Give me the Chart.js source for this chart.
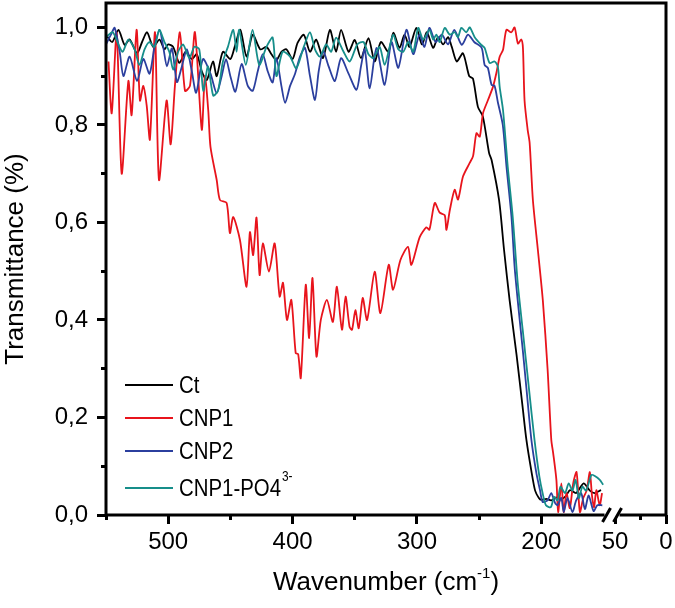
<!DOCTYPE html>
<html>
<head>
<meta charset="utf-8">
<script src="https://cdn.jsdelivr.net/npm/chart.js@4/dist/chart.umd.min.js"></script>
<style>
  html, body { margin: 0; padding: 0; background: #fff; }
  #wrap { width: 675px; height: 608px; }
</style>
</head>
<body>
<div id="wrap"><canvas id="chart"></canvas></div>
<script>
// series names, as in the legend
const seriesNames = ['Ct', 'CNP1', 'CNP2', 'CNP1-PO4']
const seriesSup = ['', '', '', '3-']

// Ct
const ctX = [550, 545, 540, 535, 531, 525, 521, 517, 512, 507, 503, 500, 496, 491, 486, 481, 477, 473, 469, 464, 461, 456, 450, 446, 442, 437, 432, 426, 421, 417, 413, 409, 405, 400, 396, 391, 386, 381, 375.5, 370, 365, 361, 355, 350, 345, 339, 334, 329, 323, 319, 314, 310, 306, 300.5, 296, 292, 287, 283, 279, 275, 272, 268, 263, 258, 255, 251, 247, 242, 240, 234, 230, 225.5, 220, 215, 212, 208, 205, 202, 200, 196, 192, 188, 184, 180, 177, 172, 166, 161, 157, 152]
const ctY = [0.985, 0.97, 0.995, 0.964, 0.975, 0.947, 0.97, 0.99, 0.96, 0.975, 0.955, 0.965, 0.96, 0.927, 0.95, 0.935, 0.945, 0.91, 0.892, 0.93, 0.9, 0.95, 0.935, 0.965, 0.995, 0.94, 0.985, 0.955, 0.96, 0.945, 0.933, 0.95, 0.955, 0.935, 0.968, 0.985, 0.95, 0.975, 0.937, 0.995, 0.95, 0.995, 0.95, 0.974, 0.937, 0.978, 0.93, 0.97, 0.95, 0.989, 0.958, 0.985, 0.96, 0.999, 0.965, 0.99, 0.958, 0.98, 0.965, 0.98, 0.96, 0.93, 0.947, 0.9, 0.895, 0.837, 0.817, 0.742, 0.728, 0.646, 0.544, 0.44, 0.33, 0.22, 0.154, 0.09, 0.05, 0.035, 0.031, 0.033, 0.03, 0.036, 0.032, 0.04, 0.051, 0.045, 0.065, 0.05, 0.045, 0.051]

// CNP1
const cnp1X = [548, 545.4, 541.4, 537.4, 532, 529.4, 525.4, 522.7, 520, 517.3, 514.7, 510.6, 507.4, 501.3, 498, 494.6, 490.6, 486.5, 482.5, 478.5, 473, 470.5, 467.8, 466, 461, 458.4, 453, 450.4, 447.7, 442.3, 437, 434.3, 431.7, 429, 426.5, 423.9, 419, 414.4, 410.4, 407.7, 404.5, 401, 397.5, 395.5, 393.4, 389.4, 386.7, 384, 380.8, 377.3, 372.4, 367.6, 364.4, 360.3, 357.4, 354.2, 352.2, 349.5, 346.8, 343.6, 340.1, 334, 329.4, 322.7, 319.2, 313.3, 307.2, 304.5, 297.8, 292.4, 290, 285.7, 281.7, 277.7, 276.3, 273.6, 269.7, 267, 263, 257.6, 254.9, 252.2, 249.5, 246.9, 242.9, 238.9, 236.2, 233.5, 230.8, 228.1, 224.1, 221.5, 218.8, 216.1, 214.8, 213.5, 211, 209.4, 206.8, 202.8, 198.8, 195, 192, 190.5, 187.9, 186.5, 183.9, 182, 179.8, 177.1, 174.4, 171.7, 169, 166.3, 163.6, 161, 159.3, 157.6, 155.8, 153.1, 151.2]
const cnp1Y = [0.93, 0.824, 0.989, 0.7, 0.89, 0.82, 0.995, 0.85, 0.88, 0.84, 0.77, 0.99, 0.687, 0.85, 0.76, 0.88, 0.99, 0.87, 0.88, 0.99, 0.79, 0.9, 0.83, 0.755, 0.687, 0.646, 0.64, 0.578, 0.611, 0.564, 0.468, 0.58, 0.533, 0.61, 0.492, 0.557, 0.499, 0.557, 0.448, 0.476, 0.4, 0.441, 0.332, 0.33, 0.281, 0.472, 0.363, 0.486, 0.325, 0.4, 0.441, 0.396, 0.468, 0.38, 0.448, 0.386, 0.38, 0.42, 0.383, 0.445, 0.4, 0.499, 0.414, 0.513, 0.462, 0.523, 0.55, 0.513, 0.57, 0.59, 0.585, 0.64, 0.62, 0.615, 0.585, 0.625, 0.667, 0.647, 0.694, 0.722, 0.736, 0.783, 0.776, 0.824, 0.851, 0.878, 0.906, 0.94, 0.954, 0.995, 0.99, 1.0, 0.967, 0.975, 0.958, 0.85, 0.79, 0.763, 0.646, 0.544, 0.44, 0.3, 0.154, 0.127, 0.072, 0.006, 0.065, 0.006, 0.045, 0.014, 0.065, 0.088, 0.006, 0.035, 0.05, 0.088, 0.04, 0.016, 0.051, 0.02, 0.045]

// CNP2
const cnp2X = [550, 546, 543, 539, 536, 531, 525, 520, 515, 511, 507, 504, 501, 497, 493, 489, 485, 481, 477.5, 472, 466, 461, 457, 453.5, 450, 446, 441, 436, 432, 428, 424, 420, 416, 413, 409, 406, 402, 398, 394, 390, 386, 382, 379, 375.4, 371, 366, 361, 355, 348.6, 345, 342, 338, 332.6, 326, 320.5, 315, 308.5, 303, 298, 294, 290, 285, 280, 275, 270, 264, 259, 254, 248, 245.6, 243, 240, 237.6, 235, 231, 228, 224, 221.5, 219, 215, 212, 208, 204, 201, 199, 195, 192, 189, 187, 184, 182, 179, 175, 172, 168, 165, 162, 158, 155, 151]
const cnp2Y = [0.965, 0.985, 0.999, 0.95, 0.9, 0.94, 0.89, 0.935, 0.905, 0.96, 0.995, 0.96, 0.92, 0.957, 0.888, 0.92, 0.955, 0.91, 0.866, 0.935, 0.905, 0.865, 0.9, 0.935, 0.9, 0.868, 0.925, 0.88, 0.87, 0.91, 0.945, 0.91, 0.887, 0.937, 0.88, 0.845, 0.88, 0.905, 0.94, 0.958, 0.9, 0.851, 0.91, 0.951, 0.92, 0.89, 0.937, 0.905, 0.872, 0.92, 0.955, 0.875, 0.958, 0.882, 0.97, 0.917, 0.995, 0.945, 0.985, 0.96, 0.999, 0.97, 0.985, 0.965, 0.995, 0.964, 0.985, 0.97, 0.958, 0.923, 0.917, 0.882, 0.88, 0.847, 0.8, 0.714, 0.611, 0.509, 0.44, 0.34, 0.26, 0.154, 0.086, 0.05, 0.027, 0.03, 0.045, 0.025, 0.02, 0.035, 0.006, 0.035, 0.006, 0.03, 0.045, 0.012, 0.04, 0.008, 0.02, 0.02]

// CNP1-PO4 3-
const po4X = [550, 544.6, 540, 536.6, 532, 527, 523.2, 519, 515.2, 511, 507.2, 503, 499.1, 496, 492, 488, 483, 479, 475, 471.8, 468, 463.8, 460, 456, 452, 447.7, 445, 442.9, 437.6, 432.2, 426.8, 421, 416, 413, 408, 402, 397, 391, 386, 382, 378, 373, 369, 365, 359, 354, 348, 343, 339, 335, 330, 326, 322, 319, 315, 311, 307, 303, 299, 295, 290, 287, 284.4, 281.7, 277.7, 273.6, 269.7, 267, 264.3, 260.3, 257.6, 253.6, 248.2, 245.6, 241.6, 237.6, 235, 233.5, 230.8, 227, 223, 219, 215, 210, 205.5, 201.6, 199, 196.3, 192.4, 189.7, 187, 184.6, 181, 178, 175, 172.5, 169.8, 167, 164, 159.8, 157, 153, 150.3]
const po4Y = [0.98, 0.99, 0.965, 0.95, 0.975, 0.955, 0.923, 0.955, 0.97, 0.96, 0.995, 0.97, 0.95, 0.913, 0.95, 0.965, 0.937, 0.96, 0.955, 0.87, 0.92, 0.86, 0.87, 0.93, 0.96, 0.995, 0.95, 0.995, 0.923, 0.995, 0.923, 0.96, 0.979, 0.9, 0.95, 0.94, 0.916, 0.96, 0.99, 0.955, 0.94, 0.965, 0.95, 0.979, 0.95, 0.93, 0.965, 0.97, 0.945, 0.937, 0.96, 0.923, 0.96, 0.985, 0.955, 0.95, 0.97, 0.95, 0.999, 0.975, 0.995, 0.975, 0.985, 0.97, 0.999, 0.985, 0.99, 0.98, 0.999, 0.99, 1.0, 0.98, 0.964, 0.958, 0.927, 0.93, 0.92, 0.878, 0.83, 0.714, 0.611, 0.476, 0.38, 0.26, 0.154, 0.079, 0.045, 0.02, 0.016, 0.037, 0.03, 0.058, 0.045, 0.065, 0.05, 0.072, 0.035, 0.058, 0.05, 0.082, 0.08, 0.072, 0.062]

// axis ticks
const xMainTicks = [550, 500, 450, 400, 350, 300, 250, 200]
const xMainLabels = [500, 400, 300, 200]
const xTailTicks = [50, 25, 0]
const xTailLabels = [50, 0]
const yTicks = [0, 0.1, 0.2, 0.3, 0.4, 0.5, 0.6, 0.7, 0.8, 0.9, 1.0]
const yLabels = [0, 0.2, 0.4, 0.6, 0.8, 1.0]

const colors = ['#000000', '#e8141c', '#2b3f9e', '#168e8a']
const xs = [ctX, cnp1X, cnp2X, po4X]
const ys = [ctY, cnp1Y, cnp2Y, po4Y]

const isIn = (list, v) => list.some((l) => Math.abs(l - v) < 1e-6)
const FONT = 'Liberation Sans, Arial, Helvetica, sans-serif'

const framePlugin = {
  id: 'frame',
  afterDraw(chart) {
    const { ctx, chartArea: a } = chart
    const x1 = chart.scales.x1
    ctx.save()
    // box around the plot
    ctx.strokeStyle = '#000'
    ctx.lineWidth = 3
    ctx.strokeRect(a.left, a.top, a.right - a.left, a.bottom - a.top)

    // axis break
    const bx = x1.getPixelForValue(150)
    ctx.fillStyle = '#fff'
    ctx.fillRect(bx + 1, a.bottom - 3, 15, 6)
    ctx.lineWidth = 3
    ctx.beginPath()
    ctx.moveTo(bx - 1, a.bottom + 7)
    ctx.lineTo(bx + 7, a.bottom - 7)
    ctx.moveTo(bx + 10, a.bottom + 7)
    ctx.lineTo(bx + 18, a.bottom - 7)
    ctx.stroke()

    // x title with superscript
    ctx.fillStyle = '#000'
    ctx.textBaseline = 'alphabetic'
    ctx.textAlign = 'left'
    const main = 'Wavenumber (cm'
    ctx.font = `26px ${FONT}`
    const w1 = ctx.measureText(main).width
    const w3 = ctx.measureText(')').width
    ctx.font = `15px ${FONT}`
    const w2 = ctx.measureText('-1').width
    let tx = (a.left + a.right) / 2 - (w1 + w2 + w3) / 2
    const ty = 590
    ctx.font = `26px ${FONT}`
    ctx.fillText(main, tx, ty)
    tx += w1
    ctx.font = `15px ${FONT}`
    ctx.fillText('-1', tx, ty - 12)
    tx += w2
    ctx.font = `26px ${FONT}`
    ctx.fillText(')', tx, ty)

    // legend inside the plot
    const rows = [385, 418, 451, 488]
    chart.data.datasets.forEach((ds, i) => {
      const y = rows[i]
      ctx.strokeStyle = ds.borderColor
      ctx.lineWidth = 2
      ctx.beginPath()
      ctx.moveTo(125, y)
      ctx.lineTo(173, y)
      ctx.stroke()
      ctx.save()
      ctx.translate(179, y)
      ctx.scale(0.85, 1)
      ctx.fillStyle = '#000'
      ctx.textBaseline = 'middle'
      ctx.font = `24px ${FONT}`
      ctx.fillText(seriesNames[i], 0, 1)
      if (seriesSup[i]) {
        const w = ctx.measureText(seriesNames[i]).width
        ctx.font = `14px ${FONT}`
        ctx.fillText(seriesSup[i], w + 1, -11)
      }
      ctx.restore()
    })
    ctx.restore()
  },
}

const tickFont = { family: FONT, size: 24 }

new Chart(document.getElementById('chart'), {
  type: 'line',
  data: {
    datasets: seriesNames.map((name, i) => ({
      label: name,
      data: xs[i].map((x, j) => ({ x, y: ys[i][j] })),
      borderColor: colors[i],
      borderWidth: 1.8,
      pointRadius: 0,
      tension: 0.25,
      fill: false,
      xAxisID: 'x1',
      yAxisID: 'y',
      order: 3 - i,
    })),
  },
  options: {
    responsive: true,
    maintainAspectRatio: false,
    animation: false,
    layout: { padding: { top: 3, right: 9, left: 0, bottom: 0 } },
    plugins: { legend: { display: false }, tooltip: { enabled: false } },
    scales: {
      x1: {
        type: 'linear',
        position: 'bottom',
        stack: 'x',
        stackWeight: 505,
        min: 144,
        max: 550,
        reverse: true,
        afterBuildTicks: (s) => { s.ticks = xMainTicks.map((v) => ({ value: v })) },
        afterFit: (s) => { s.height = 93; s.paddingLeft = 0; s.paddingRight = 0 },
        border: { display: false },
        grid: {
          drawOnChartArea: false,
          drawTicks: true,
          tickLength: 9,
          tickWidth: 3,
          tickColor: '#000',
          tickBorderDash: (c) => (isIn(xMainLabels, c.tick.value) ? [] : [5, 20]),
        },
        ticks: {
          color: '#000',
          font: tickFont,
          padding: 4,
          autoSkip: false,
          maxRotation: 0,
          callback: (v) => (isIn(xMainLabels, v) ? String(v) : ''),
        },
      },
      x2: {
        type: 'linear',
        position: 'bottom',
        stack: 'x',
        stackWeight: 55,
        min: 0,
        max: 54,
        reverse: true,
        afterBuildTicks: (s) => { s.ticks = xTailTicks.map((v) => ({ value: v })) },
        afterFit: (s) => { s.height = 93; s.paddingLeft = 0; s.paddingRight = 0 },
        border: { display: false },
        grid: {
          drawOnChartArea: false,
          drawTicks: true,
          tickLength: 9,
          tickWidth: 3,
          tickColor: '#000',
          tickBorderDash: (c) => (isIn(xTailLabels, c.tick.value) ? [] : [5, 20]),
        },
        ticks: {
          color: '#000',
          font: tickFont,
          padding: 4,
          autoSkip: false,
          maxRotation: 0,
          callback: (v) => (isIn(xTailLabels, v) ? String(v) : ''),
        },
      },
      y: {
        type: 'linear',
        position: 'left',
        min: 0,
        max: 1.05,
        afterBuildTicks: (s) => { s.ticks = yTicks.map((v) => ({ value: v })) },
        afterFit: (s) => { s.width = 106; s.paddingTop = 0; s.paddingBottom = 0 },
        border: { display: false },
        grid: {
          drawOnChartArea: false,
          drawTicks: true,
          tickLength: 9,
          tickWidth: 3,
          tickColor: '#000',
          tickBorderDash: (c) => (isIn(yLabels, c.tick.value) ? [] : [0, 4, 5, 20]),
        },
        ticks: {
          color: '#000',
          font: tickFont,
          padding: 9,
          autoSkip: false,
          callback: (v) => (isIn(yLabels, v) ? v.toFixed(1).replace('.', ',') : ''),
        },
        title: {
          display: true,
          text: 'Transmittance (%)',
          color: '#000',
          font: { family: FONT, size: 26 },
          padding: { top: 0, bottom: 0 },
        },
      },
    },
  },
  plugins: [framePlugin],
})
</script>
</body>
</html>
